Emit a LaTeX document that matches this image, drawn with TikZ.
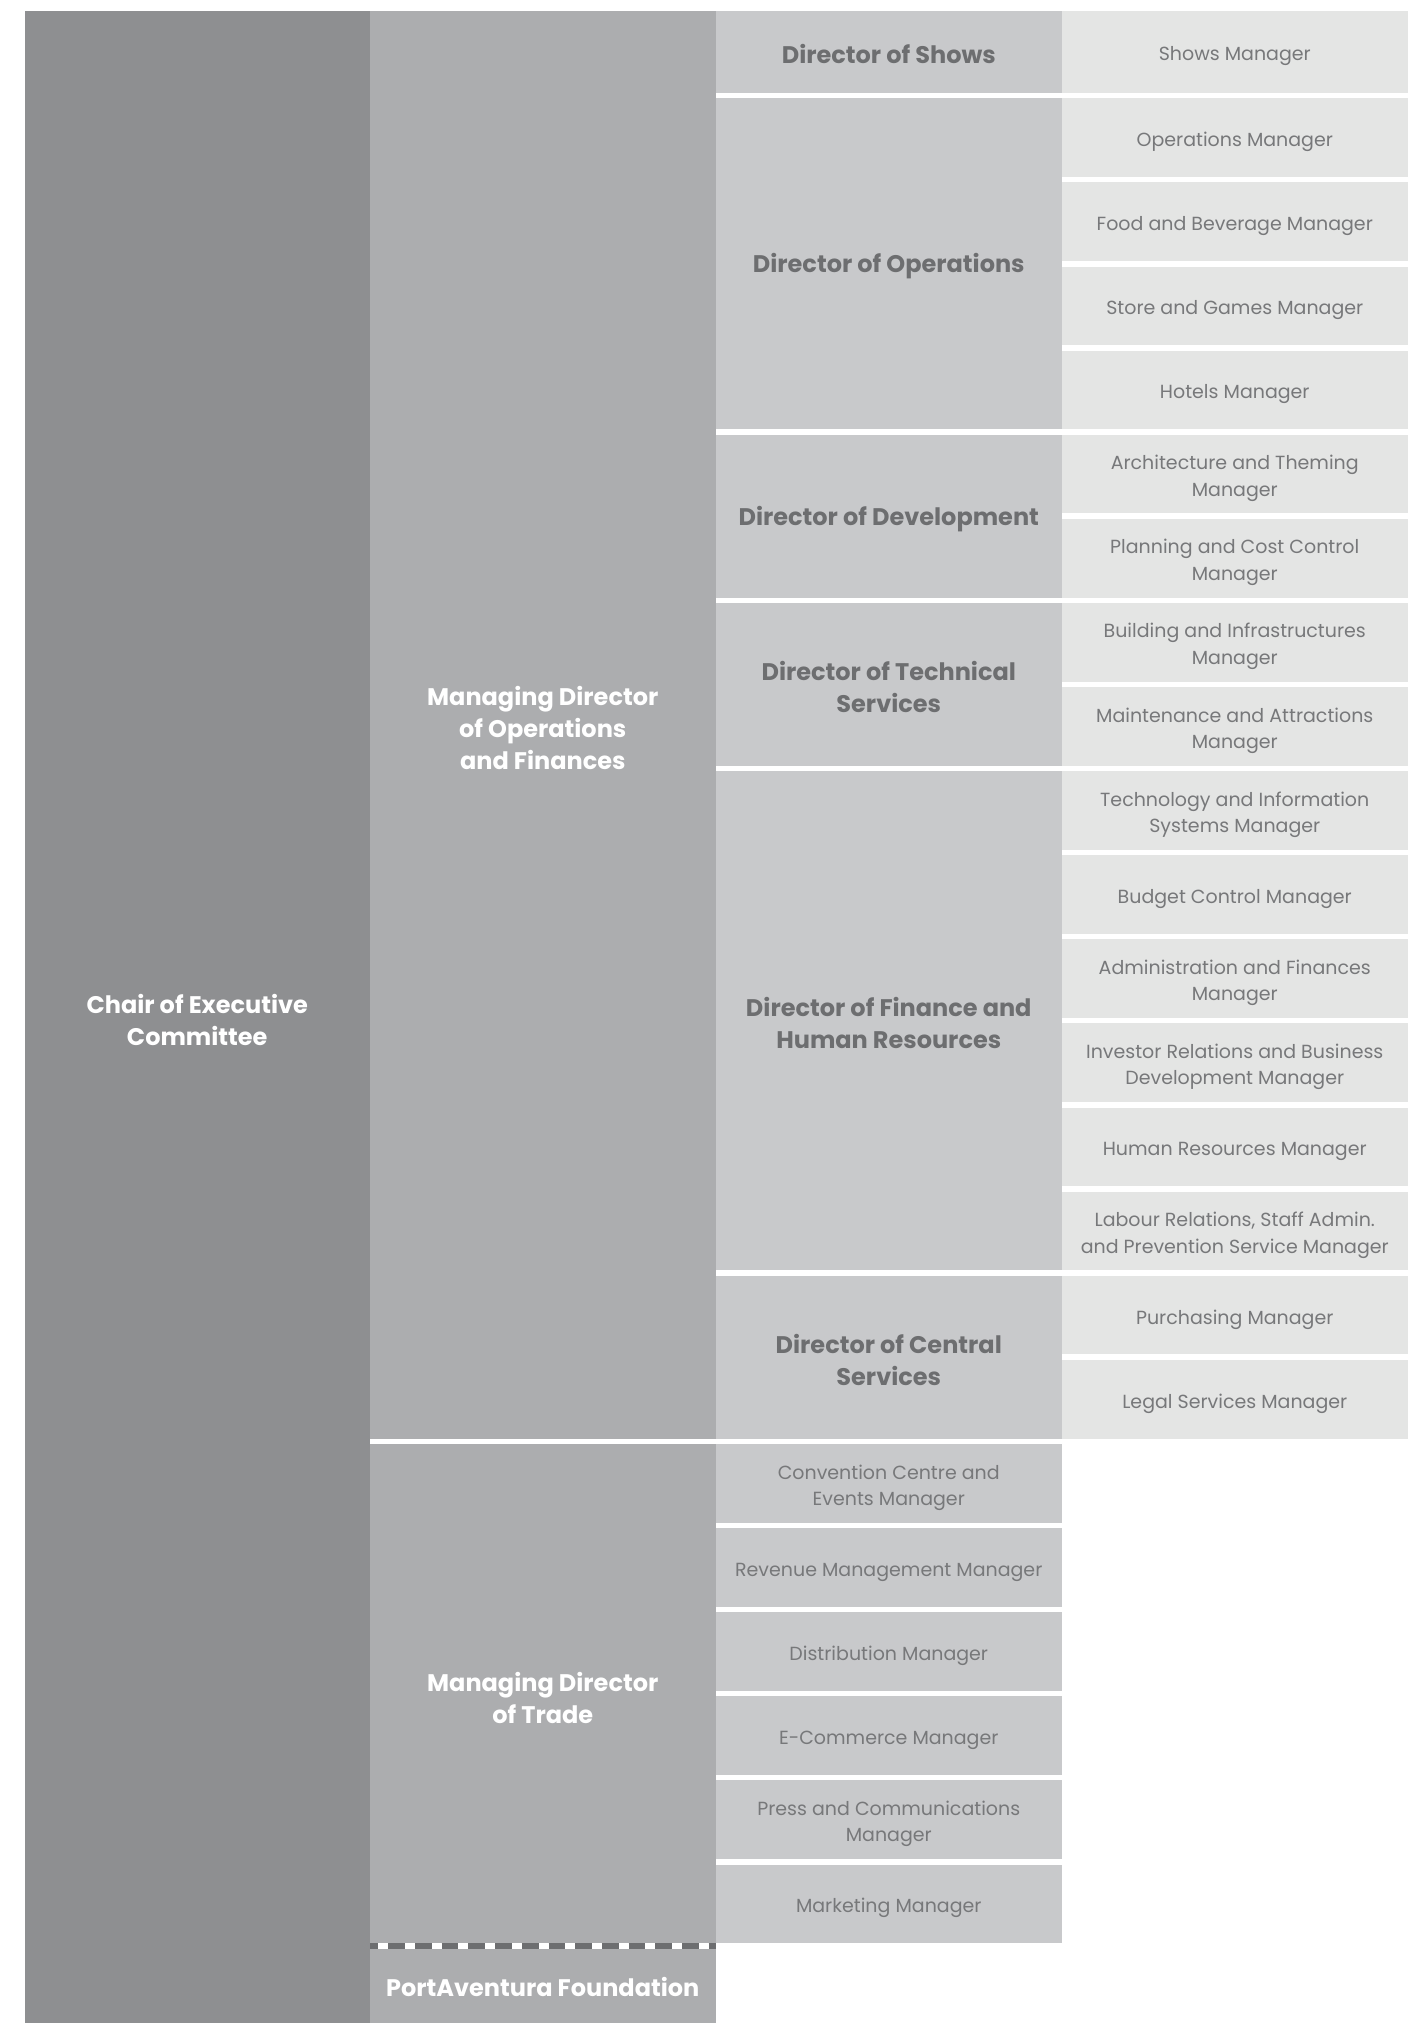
\documentclass[tikz,border=0pt]{standalone}
\usepackage{fontspec}
\setmainfont{Poppins}
\usepackage{xcolor}

\definecolor{chairgray}{HTML}{8E8F91}
\definecolor{mdgray}{HTML}{ACADAF}
\definecolor{dirgray}{HTML}{C8C9CB}
\definecolor{mgrgray}{HTML}{E4E5E4}
\definecolor{dirtext}{HTML}{6D6E70}
\definecolor{mgrtext}{HTML}{77787A}

\newcommand{\boldlabel}{\fontsize{24}{32}\selectfont\bfseries}
\newcommand{\plainlabel}{\fontsize{19}{26.5}\selectfont}
% struts to sit the text a little lower in its cell
\newcommand{\bstrut}{\rule{0pt}{24.2pt}}
\newcommand{\pstrut}{\rule{0pt}{23pt}}

\begin{document}
\begin{tikzpicture}[x=1pt,y=-1pt]
        \tikzset{cell/.style={anchor=north west,inner sep=0pt,outer sep=0pt,
                minimum width=345.5pt,align=center},
            chair/.style={cell,fill=chairgray,text=white,font=\boldlabel},
            md/.style={cell,fill=mdgray,text=white,font=\boldlabel},
            director/.style={cell,fill=dirgray,text=dirtext,font=\boldlabel},
            trade/.style={cell,fill=dirgray,text=mgrtext,font=\plainlabel,minimum height=78.7pt},
            manager/.style={cell,fill=mgrgray,text=mgrtext,font=\plainlabel,minimum height=78.7pt}}
        \useasboundingbox (0,0) rectangle (1423,2023);
        % first two columns
        \node[chair,minimum height=2012pt] (chair) at (24.5,11) {\bstrut Chair of Executive\\Committee};
        \node[md,minimum height=1428pt] (mdops) at (370,11) {\bstrut Managing Director\\of Operations\\and Finances};
        \node[md,minimum height=502pt] (mdtrade) at (370,1444) {\bstrut Managing Director\\of Trade};
        \node[md,minimum height=77pt] (foundation) at (370,1946) {\bstrut PortAventura Foundation};
        % directors
        \node[director,minimum height=81.7pt] (dshows) at (716,11) {\bstrut Director of Shows};
        \node[director,minimum height=331pt] (dops) at (716,98.3) {\bstrut Director of Operations};
        \node[director,minimum height=162.8pt] (ddev) at (716,434.7) {\bstrut Director of Development};
        \node[director,minimum height=162.8pt] (dtech) at (716,602.9) {\bstrut Director of Technical\\Services};
        \node[director,minimum height=499.2pt] (dfin) at (716,771.1) {\bstrut Director of Finance and\\Human Resources};
        \node[director,minimum height=162.8pt] (dcent) at (716,1276.2) {\bstrut Director of Central\\Services};
        % managers
        \node[manager,minimum height=81.7pt] (m0) at (1062,11) {\pstrut Shows Manager};
        \foreach \lbl [count=\k from 1] in {Operations Manager,Food and Beverage Manager,
            Store and Games Manager,Hotels Manager,{Architecture and Theming\\Manager},
            {Planning and Cost Control\\Manager},{Building and Infrastructures\\Manager},
            {Maintenance and Attractions\\Manager},{Technology and Information\\Systems Manager},
            Budget Control Manager,{Administration and Finances\\Manager},
            {Investor Relations and Business\\Development Manager},Human Resources Manager,
            {Labour Relations, Staff Admin.\\and Prevention Service Manager},
            Purchasing Manager,Legal Services Manager}
            \node[manager] (m\k) at (1062,{98.3+84.1*(\k-1)}) {\pstrut\lbl};
        \foreach \lbl [count=\k from 0] in {{Convention Centre and\\Events Manager},
            Revenue Management Manager,Distribution Manager,E-Commerce Manager,
            {Press and Communications\\Manager},Marketing Manager}
            \node[trade] (t\k) at (716,{1444+84.1*\k}) {\pstrut\lbl};
        % dashed border
        \draw[white,line width=5.7pt] (mdtrade.south west) -- (mdtrade.south east);
        \draw[dirtext,line width=5.7pt,dash pattern=on 16.7pt off 10pt,dash phase=8.4pt]
            (mdtrade.south west) -- (mdtrade.south east);
    \end{tikzpicture}
\end{document}
